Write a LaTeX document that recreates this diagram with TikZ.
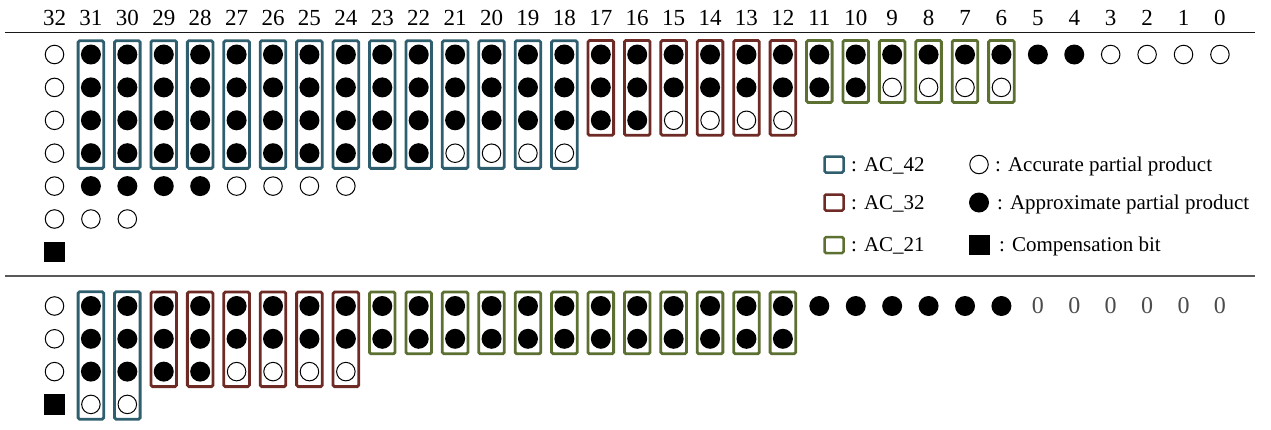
\documentclass[tikz,border=0pt]{standalone}
\usepackage{fontspec}
\setmainfont{Liberation Serif}
\usepackage{xcolor}
\usepackage{tikz}
\usetikzlibrary{positioning}

\definecolor{acteal}{HTML}{2F5F6E}
\definecolor{acred}{HTML}{6E2A24}
\definecolor{acgreen}{HTML}{5B7031}

% column and row positions (picture units)
\newcommand{\colx}[1]{(54.5+(32-#1)*36.42)}
\newcommand{\rowt}[1]{(54.5+(#1-1)*32.9)}
\newcommand{\rowb}[1]{(306+(#1-1)*32.8)}

\begin{document}
\begin{tikzpicture}[x=1pt, y=-1pt,
  acc/.style={circle, draw, line width=1pt, minimum size=18.5pt, inner sep=0pt},
  apx/.style={circle, fill, minimum size=20pt, inner sep=0pt},
  comp/.style={fill, minimum width=21pt, minimum height=20.5pt, inner sep=0pt},
  acbox/.style={draw, line width=2.8pt, rounded corners=1.5pt,
    minimum width=25.6pt, inner sep=0pt},
  ac42/.style={acbox, draw=acteal},
  ac32/.style={acbox, draw=acred},
  ac21/.style={acbox, draw=acgreen},
  num/.style={font=\fontsize{23}{26}\selectfont, inner sep=0pt, anchor=base},
  zero/.style={font=\fontsize{24}{28}\selectfont, text=black!70, inner sep=0pt},
  lbl/.style={font=\fontsize{21}{24}\selectfont, inner sep=0pt, anchor=base west},
]
\useasboundingbox (0,0) rectangle (1271,429);

% Header: bit positions
\foreach \c in {0,...,32}
  \node[num] (h\c) at ({\colx{\c}},25) {\c};

% Rules
\coordinate (ruleA) at (5,32.7);
\coordinate (ruleB) at (1255,32.7);
\coordinate (ruleC) at (5,276);
\coordinate (ruleD) at (1255,276);
\draw[line width=1.2pt, black!90] (ruleA) -- (ruleB);
\draw[line width=1.6pt, black!65] (ruleC) -- (ruleD);

% Stage 1: column 32
\foreach \r in {1,...,6}
  \node[acc] (t32-\r) at ({\colx{32}},{\rowt{\r}}) {};
\node[comp] (t32-7) at ({\colx{32}},{\rowt{7}}) {};

% Stage 1: AC_42 columns 31..18
\foreach \c in {18,...,31} {
  \node[ac42, minimum height=127.6pt] (tb\c) at ({\colx{\c}},{\rowt{2.5}+0.7}) {};
  \foreach \r in {1,2,3}
    \node[apx] (t\c-\r) at ({\colx{\c}},{\rowt{\r}}) {};
}
\foreach \c in {22,...,31}
  \node[apx] (t\c-4) at ({\colx{\c}},{\rowt{4}}) {};
\foreach \c in {18,...,21}
  \node[acc] (t\c-4) at ({\colx{\c}},{\rowt{4}}) {};

% Stage 1: rows 5 and 6
\foreach \c in {28,...,31}
  \node[apx] (t\c-5) at ({\colx{\c}},{\rowt{5}}) {};
\foreach \c in {24,...,27}
  \node[acc] (t\c-5) at ({\colx{\c}},{\rowt{5}}) {};
\foreach \c in {30,31}
  \node[acc] (t\c-6) at ({\colx{\c}},{\rowt{6}}) {};

% Stage 1: AC_32 columns 17..12
\foreach \c in {12,...,17} {
  \node[ac32, minimum height=94.8pt] (tb\c) at ({\colx{\c}},{\rowt{2}+0.5}) {};
  \foreach \r in {1,2}
    \node[apx] (t\c-\r) at ({\colx{\c}},{\rowt{\r}}) {};
}
\foreach \c in {16,17}
  \node[apx] (t\c-3) at ({\colx{\c}},{\rowt{3}}) {};
\foreach \c in {12,...,15}
  \node[acc] (t\c-3) at ({\colx{\c}},{\rowt{3}}) {};

% Stage 1: AC_21 columns 11..6
\foreach \c in {6,...,11} {
  \node[ac21, minimum height=61.9pt] (tb\c) at ({\colx{\c}},{\rowt{1.5}+0.5}) {};
  \node[apx] (t\c-1) at ({\colx{\c}},{\rowt{1}}) {};
}
\foreach \c in {10,11}
  \node[apx] (t\c-2) at ({\colx{\c}},{\rowt{2}}) {};
\foreach \c in {6,...,9}
  \node[acc] (t\c-2) at ({\colx{\c}},{\rowt{2}}) {};

% Stage 1: columns 5..0
\foreach \c in {4,5}
  \node[apx] (t\c-1) at ({\colx{\c}},{\rowt{1}}) {};
\foreach \c in {0,...,3}
  \node[acc] (t\c-1) at ({\colx{\c}},{\rowt{1}}) {};

% Legend
\node[ac42, minimum width=19pt, minimum height=16pt, line width=2.5pt] (k42) at (834,164.5) {};
\node[ac32, minimum width=19pt, minimum height=16pt, line width=2.5pt] (k32) at (834,202.5) {};
\node[ac21, minimum width=19pt, minimum height=16pt, line width=2.5pt] (k21) at (834,245) {};
\node[lbl] (k42t) at (851,171) {: AC\_42};
\node[lbl] (k32t) at (851,209) {: AC\_32};
\node[lbl] (k21t) at (851,251.5) {: AC\_21};
\node[acc] (kacc) at (979,164.5) {};
\node[apx] (kapx) at (979,202.5) {};
\node[comp] (kcomp) at (979,245) {};
\node[lbl] (kacct) at (995,171) {: Accurate partial product};
\node[lbl] (kapxt) at (997,209.5) {: Approximate partial product};
\node[lbl] (kcompt) at (999,251.5) {: Compensation bit};

% Stage 2: column 32
\foreach \r in {1,2,3}
  \node[acc] (b32-\r) at ({\colx{32}},{\rowb{\r}}) {};
\node[comp] (b32-4) at ({\colx{32}},{\rowb{4}}) {};

% Stage 2: AC_42 columns 31, 30
\foreach \c in {30,31} {
  \node[ac42, minimum height=127.4pt] (bb\c) at ({\colx{\c}},{\rowb{2.5}+0.3}) {};
  \foreach \r in {1,2,3}
    \node[apx] (b\c-\r) at ({\colx{\c}},{\rowb{\r}}) {};
  \node[acc] (b\c-4) at ({\colx{\c}},{\rowb{4}}) {};
}

% Stage 2: AC_32 columns 29..24
\foreach \c in {24,...,29} {
  \node[ac32, minimum height=94.6pt] (bb\c) at ({\colx{\c}},{\rowb{2}+0.5}) {};
  \foreach \r in {1,2}
    \node[apx] (b\c-\r) at ({\colx{\c}},{\rowb{\r}}) {};
}
\foreach \c in {28,29}
  \node[apx] (b\c-3) at ({\colx{\c}},{\rowb{3}}) {};
\foreach \c in {24,...,27}
  \node[acc] (b\c-3) at ({\colx{\c}},{\rowb{3}}) {};

% Stage 2: AC_21 columns 23..12
\foreach \c in {12,...,23} {
  \node[ac21, minimum height=61.8pt] (bb\c) at ({\colx{\c}},{\rowb{1.5}+0.5}) {};
  \foreach \r in {1,2}
    \node[apx] (b\c-\r) at ({\colx{\c}},{\rowb{\r}}) {};
}

% Stage 2: columns 11..0
\foreach \c in {6,...,11}
  \node[apx] (b\c-1) at ({\colx{\c}},{\rowb{1}}) {};
\foreach \c in {0,...,5}
  \node[zero] (b\c-1) at ({\colx{\c}},{\rowb{1}}) {0};

\end{tikzpicture}
\end{document}
